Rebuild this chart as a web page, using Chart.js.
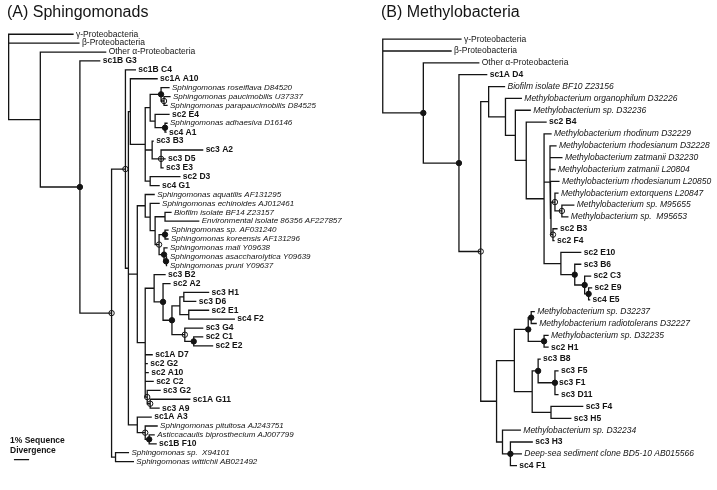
<!DOCTYPE html>
<html>
<head>
<meta charset="utf-8">
<script src="https://cdn.jsdelivr.net/npm/chart.js@4.4.1/dist/chart.umd.min.js"></script>
<style>
    html, body { margin: 0; padding: 0; background: #fff; }
    #wrap { width: 717px; height: 490px; }
</style>
</head>
<body>
<div id="wrap"><canvas id="tree" width="717" height="490"></canvas></div>
<script>
// ---- (A) Sphingomonads: leaves top to bottom, tip depth of each leaf ----
const leavesA = [
    "γ-Proteobacteria", "β-Proteobacteria", "Other α-Proteobacteria", "sc1B G3", "sc1B C4", "sc1A A10",
    "Sphingomonas roseiflava D84520", "Sphingomonas paucimobilis U37337", "Sphingomonas parapaucimobilis D84525",
    "sc2 E4", "Sphingomonas adhaesiva D16146", "sc4 A1", "sc3 B3", "sc3 A2", "sc3 D5", "sc3 E3", "sc2 D3", "sc4 G1",
    "Sphingomonas aquatilis AF131295", "Sphingomonas echinoides AJ012461", "Biofilm isolate BF14 Z23157",
    "Environmental isolate 86356 AF227857", "Sphingomonas sp. AF031240", "Sphingomonas koreensis AF131296",
    "Sphingomonas mali Y09638", "Sphingomonas asaccharolytica Y09639", "Sphingomonas pruni Y09637",
    "sc3 B2", "sc2 A2", "sc3 H1", "sc3 D6", "sc2 E1", "sc4 F2", "sc3 G4", "sc2 C1", "sc2 E2",
    "sc1A D7", "sc2 G2", "sc2 A10", "sc2 C2", "sc3 G2", "sc1A G11", "sc3 A9", "sc1A A3",
    "Sphingomonas pituitosa AJ243751", "Asticcacaulis biprosthecium AJ007799", "sc1B F10",
    "Sphingomonas sp.  X94101", "Sphingomonas wittichii AB021492"
]
const tipsA = [65, 71, 98, 92, 128, 150, 162, 163, 160, 162, 160, 159, 146, 196, 158, 156, 173, 152,
    147, 152, 164, 192, 161, 161, 160, 160, 160, 158, 163, 202, 189, 202, 228, 196, 196, 206,
    145, 140, 141, 146, 153, 183, 152, 144, 150, 147, 149, 121, 126]

// internal nodes: id, depth, children (leaf index or node id), support mark
const nodesA = ["rootA", "N1", "N2", "N3", "Nw", "N4", "N5", "N6", "e", "d", "a1", "a2", "c", "b", "g", "f", "h",
    "P", "q", "p", "k", "j", "l", "m", "n", "o", "BIG", "s", "r", "t", "u", "w", "xx", "v", "yy", "z1", "z2",
    "A3", "A3b", "A3c"]
const depthA = [0, 32, 72, 104, 108, 118, 121, 123, 138, 143, 154, 157, 148, 158, 145, 154, 143,
    130, 138, 143, 148, 158, 152, 158, 157, 159, 138, 147, 156, 165, 173, 177, 182, 178, 187, 140, 143,
    130, 138, 142]
const kidsA = [
    [0, 1, "N1"], [2, "N2"], [3, "N3"], ["N4", "Nw"], [47, 48], [4, "N5"], ["N6", "P", "A3"], [5, "e"],
    ["d", "g", "h"], ["a1", "c"], [6, "a2"], [7, 8], [9, "b"], [10, 11], [12, "f"], [13, 14, 15], [16, 17],
    ["q", "BIG"], [18, "p"], [19, "k"], ["j", "l"], [20, 21], ["m", "n"], [22, 23], [24, "o"], [25, 26],
    ["s", 36, 37, 38, 39, "z1"], [27, "r"], [28, "t"], ["u", "v"], ["w", "xx"], [29, 30], [31, 32],
    [33, "yy"], [34, 35], [40, "z2"], [41, 42], [43, "A3b"], [44, "A3c"], [45, 46]
]
const markA = ["", "", "f", "o", "", "o", "", "", "", "", "f", "o", "", "f", "", "o", "",
    "", "", "", "", "", "o", "f", "f", "f", "", "", "f", "f", "", "", "", "o", "f", "o", "o",
    "", "o", "f"]

// ---- (B) Methylobacteria ----
const leavesB = [
    "γ-Proteobacteria", "β-Proteobacteria", "Other α-Proteobacteria", "sc1A D4", "Biofilm isolate BF10 Z23156",
    "Methylobacterium organophilum D32226", "Methylobacterium sp. D32236", "sc2 B4",
    "Methylobacterium rhodinum D32229", "Methylobacterium rhodesianum D32228", "Methylobacterium zatmanii D32230",
    "Methylobacterium zatmanii L20804", "Methylobacterium rhodesianum L20850", "Methylobacterium extorquens L20847",
    "Methylobacterium sp. M95655", "Methylobacterium sp.  M95653", "sc2 B3", "sc2 F4", "sc2 E10", "sc3 B6",
    "sc2 C3", "sc2 E9", "sc4 E5", "Methylobacterium sp. D32237", "Methylobacterium radiotolerans D32227",
    "Methylobacterium sp. D32235", "sc2 H1", "sc3 B8", "sc3 F5", "sc3 F1", "sc3 D11", "sc3 F4", "sc3 H5",
    "Methylobacterium sp. D32234", "sc3 H3", "Deep-sea sediment clone BD5-10 AB015566", "sc4 F1"
]
const tipsB = [79, 69, 97, 105, 123, 140, 149, 165, 170, 175, 181, 174, 178, 177, 193, 187, 176, 173,
    200, 200, 210, 211, 209, 153, 155, 167, 167, 159, 177, 175, 177, 202, 190, 139, 151, 140, 135]

const nodesB = ["rootB", "B1", "B2", "B3", "U1", "U2", "U3", "U4", "U5", "X", "W", "Y", "Y2", "W2",
    "E1", "E2", "E3", "E4", "L", "L1", "L3", "L3a", "L3b", "L4", "L5", "L6", "L7", "L2", "L8"]
const depthB = [0, 41, 77, 99, 107, 124, 134, 145, 163, 169, 170, 174, 181, 172,
    180, 194, 204, 208, 115, 133, 147, 150, 163, 151, 157, 174, 170, 121, 129]
const kidsB = [
    [0, 1, "B1"], [2, "B2"], [3, "B3"], ["U1", "L"], [4, "U2"], [5, "U3"], [6, "U4"], [7, "U5"],
    [8, "X", "E1"], [9, 10, 11, 12, "W"], ["Y", "W2"], [13, "Y2"], [14, 15], [16, 17],
    [18, "E2"], [19, "E3"], [20, "E4"], [21, 22], ["L1", "L2"], ["L3", "L4"], ["L3a", "L3b"], [23, 24], [25, 26],
    ["L5", "L7"], [27, "L6"], [28, 29, 30], [31, 32], [33, "L8"], [34, 35, 36]
]
const markB = ["", "f", "f", "o", "", "", "", "", "", "", "", "o", "o", "o",
    "", "f", "f", "f", "", "", "f", "f", "f", "", "f", "f", "", "", "f"]

// scale bar: 1% sequence divergence in depth units
const scaleBarLength = 14

// layout
const rootXA = 5, rootXB = 383
const rowTopA = 31, rowStepA = 9.04
const rowTopB = 36, rowStepB = 12.03
const FONT = "'Liberation Sans', Arial, Helvetica, sans-serif"
const INK = "#141414"

function buildTree(tips, ids, depths, kids, marks, offset) {
    const pos = {}
    function place(id) {
        if (typeof id === "number") return {x: offset + tips[id], y: id}
        if (pos[id]) return pos[id]
        const i = ids.indexOf(id)
        const ch = kids[i].map(place)
        const ys = ch.map(c => c.y)
        pos[id] = {x: offset + depths[i], y: (Math.min(...ys) + Math.max(...ys)) / 2, kids: ch, mark: marks[i]}
        return pos[id]
    }
    place(ids[0])
    const seg = []
    ids.forEach(id => {
        const n = pos[id]
        n.kids.forEach(c => {
            seg.push({x: n.x, y: n.y}, {x: n.x, y: c.y}, {x: c.x, y: c.y}, {x: NaN, y: NaN})
        })
    })
    const filled = ids.filter(id => pos[id].mark === "f").map(id => ({x: pos[id].x, y: pos[id].y}))
    const open = ids.filter(id => pos[id].mark === "o").map(id => ({x: pos[id].x, y: pos[id].y}))
    return {seg, filled, open}
}

const treeA = buildTree(tipsA, nodesA, depthA, kidsA, markA, rootXA)
const treeB = buildTree(tipsB, nodesB, depthB, kidsB, markB, rootXB)

function branchSet(data, axis) {
    return {data: data, yAxisID: axis, showLine: true, borderColor: INK, borderWidth: 1.3,
        pointRadius: 0, tension: 0, borderCapStyle: "square", borderJoinStyle: "miter"}
}
function markSet(data, axis, fill) {
    return {data: data, yAxisID: axis, showLine: false, pointRadius: 2.7, pointBackgroundColor: fill,
        pointBorderColor: INK, pointBorderWidth: 1, pointHoverRadius: 2.7}
}

function labelFont(name, size) {
    if (name.startsWith("sc")) return "bold 8.5px " + FONT
    if (name.indexOf("Proteobacteria") >= 0) return "8.5px " + FONT
    return "italic " + size + "px " + FONT
}

function drawLabels(ctx, xs, ys, names, tips, offset, size) {
    names.forEach((name, i) => {
        ctx.font = labelFont(name, size)
        ctx.fillText(name, xs.getPixelForValue(offset + tips[i]) + 3, ys.getPixelForValue(i))
    })
}

const labelPlugin = {
    id: "treeLabels",
    afterDatasetsDraw(chart) {
        const ctx = chart.ctx
        const s = chart.scales
        ctx.save()
        ctx.fillStyle = INK
        ctx.textBaseline = "middle"
        drawLabels(ctx, s.x, s.yA, leavesA, tipsA, rootXA, 8)
        drawLabels(ctx, s.x, s.yB, leavesB, tipsB, rootXB, 8.5)
        // scale bar caption
        ctx.font = "bold 8.5px " + FONT
        ctx.fillText("1% Sequence", 10, 441)
        ctx.fillText("Divergence", 10, 451)
        // panel titles
        ctx.textBaseline = "alphabetic"
        ctx.font = "16px " + FONT
        ctx.fillText("(A) Sphingomonads", 7, 17)
        ctx.fillText("(B) Methylobacteria", 381, 17)
        ctx.restore()
    }
}

const scaleBarRow = (463 - rowTopA) / rowStepA

new Chart(document.getElementById("tree"), {
    type: "scatter",
    data: {
        datasets: [
            branchSet(treeA.seg, "yA"),
            branchSet(treeB.seg, "yB"),
            branchSet([{x: 11, y: scaleBarRow}, {x: 11 + scaleBarLength, y: scaleBarRow}], "yA"),
            markSet(treeA.filled, "yA", INK),
            markSet(treeA.open, "yA", "#fff"),
            markSet(treeB.filled, "yB", INK),
            markSet(treeB.open, "yB", "#fff")
        ]
    },
    options: {
        responsive: false,
        animation: false,
        events: [],
        layout: {padding: 0},
        plugins: {legend: {display: false}, tooltip: {enabled: false}},
        scales: {
            x: {type: "linear", min: 0, max: 717, display: false},
            yA: {type: "linear", reverse: true, display: false,
                min: -rowTopA / rowStepA, max: (490 - rowTopA) / rowStepA},
            yB: {type: "linear", reverse: true, display: false,
                min: -rowTopB / rowStepB, max: (490 - rowTopB) / rowStepB}
        }
    },
    plugins: [labelPlugin]
})
</script>
</body>
</html>
